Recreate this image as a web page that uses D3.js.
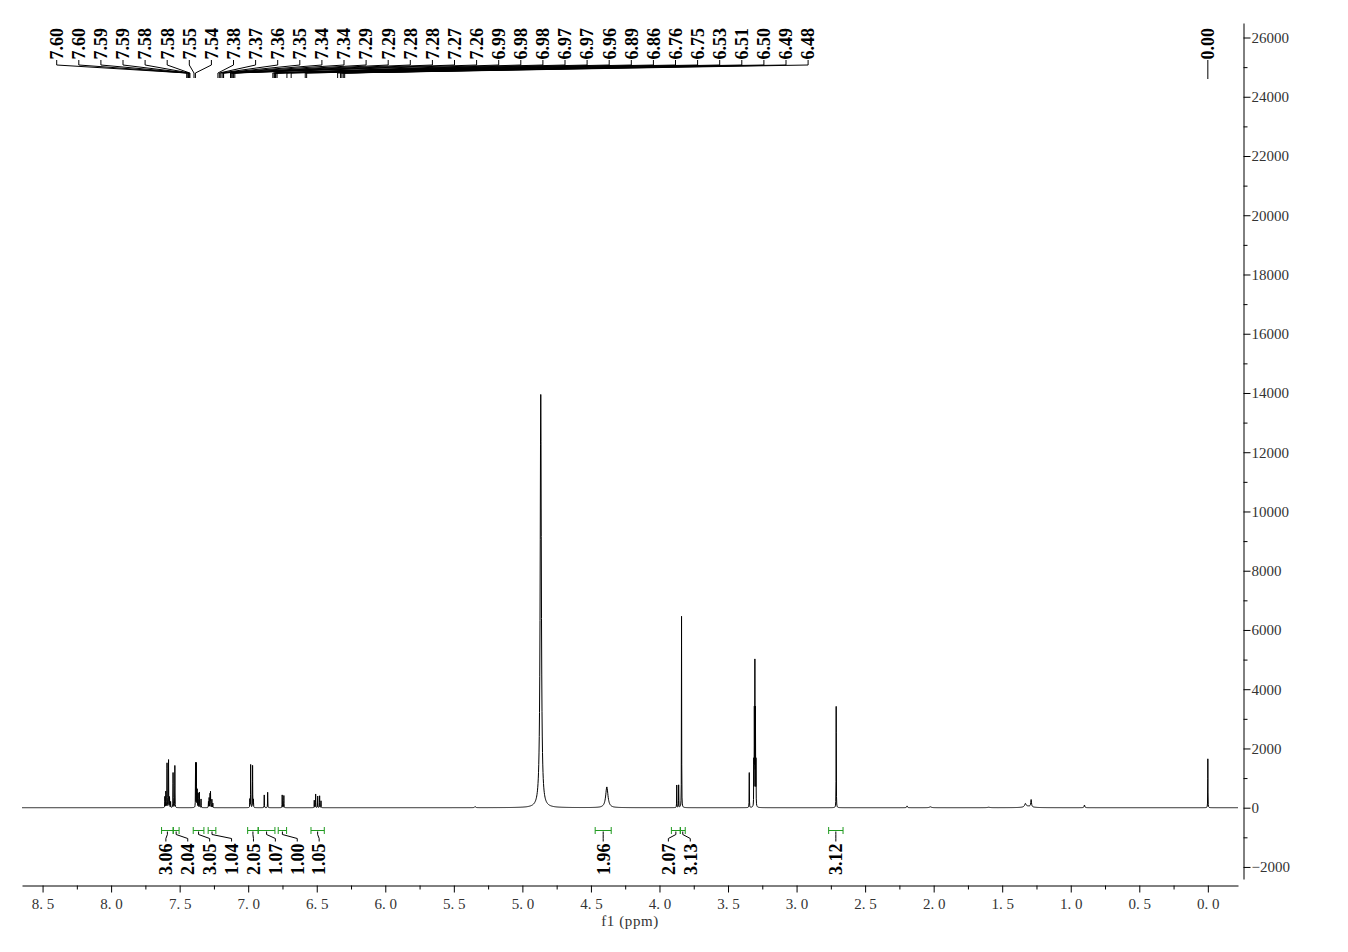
<!DOCTYPE html>
<html>
<head>
<meta charset="utf-8">
<script src="https://cdn.jsdelivr.net/npm/d3@7"></script>
<style>
  html, body { margin: 0; padding: 0; background: #fff; }
  svg { display: block; }
  .axis text { font-family: "Liberation Serif", serif; font-size: 15px; fill: #333; }
  .axis path, .axis line { stroke: #000; }
  .lbl { font-family: "Liberation Serif", serif; font-size: 18px; font-weight: bold; fill: #000; }
</style>
</head>
<body>
<svg id="chart" width="1348" height="952"></svg>
<script>
// peaks: [ppm, intensity, half width in ppm]
var aromaticPeaks = [
  [7.608, 370, 0.0008], [7.601, 540, 0.0008], [7.592, 1500, 0.0008], [7.581, 1610, 0.0008],
  [7.574, 350, 0.0008], [7.566, 200, 0.0008], [7.548, 1180, 0.0008], [7.535, 1420, 0.0008],
  [7.384, 1500, 0.0008], [7.378, 1490, 0.0008], [7.372, 600, 0.0008], [7.365, 480, 0.0008],
  [7.356, 520, 0.0008], [7.344, 290, 0.0008],
  [7.290, 200, 0.0008], [7.285, 330, 0.0008], [7.278, 450, 0.0008], [7.275, 520, 0.0008],
  [7.265, 280, 0.0008], [7.258, 150, 0.0008],
  [6.988, 280, 0.0008], [6.982, 1450, 0.0008], [6.968, 1420, 0.0008], [6.962, 270, 0.0008],
  [6.883, 430, 0.0008], [6.858, 520, 0.0008],
  [6.752, 430, 0.0008], [6.740, 410, 0.0008],
  [6.518, 250, 0.0008], [6.508, 460, 0.0008], [6.493, 390, 0.0008], [6.479, 400, 0.0008], [6.469, 230, 0.0008]
];

var aliphaticPeaks = [
  [4.384, 700, 0.010],
  [3.874, 760, 0.0008], [3.860, 760, 0.0008], [3.839, 6460, 0.0008],
  [3.345, 1180, 0.0008],
  [2.711, 3420, 0.0008],
  [2.194, 60, 0.003], [2.024, 30, 0.008], [1.599, 15, 0.010],
  [1.331, 110, 0.006], [1.289, 240, 0.003], [1.310, 50, 0.030],
  [0.900, 90, 0.003]
];

var solventPeaks = [
  [5.345, 35, 0.004],
  [4.866, 13950, 0.005],
  [3.312, 1500, 0.0008], [3.308, 3150, 0.0008], [3.304, 4750, 0.0008], [3.300, 3150, 0.0008], [3.296, 1500, 0.0008],
  [0.000, 1650, 0.0008]
];

// peak labels at the top
var peakLabels = [7.60, 7.60, 7.59, 7.59, 7.58, 7.58, 7.55, 7.54, 7.38, 7.37, 7.36, 7.35, 7.34, 7.34,
  7.29, 7.29, 7.28, 7.28, 7.27, 7.26, 6.99, 6.98, 6.98, 6.97, 6.97, 6.96, 6.89, 6.86, 6.76, 6.75,
  6.53, 6.51, 6.50, 6.49, 6.48];
var tmsLabel = 0.00;

// integrals: [from ppm, to ppm]
var integralRanges = [
  [7.632, 7.547], [7.547, 7.504], [7.401, 7.323], [7.292, 7.236],
  [7.004, 6.927], [6.927, 6.805], [6.781, 6.720], [6.542, 6.445],
  [4.469, 4.352], [3.913, 3.848], [3.848, 3.812], [2.766, 2.661]
];
var integralValues = [3.06, 2.04, 3.05, 1.04, 2.05, 1.07, 1.00, 1.05, 1.96, 2.07, 3.13, 3.12];

var xMajor = [8.5, 8.0, 7.5, 7.0, 6.5, 6.0, 5.5, 5.0, 4.5, 4.0, 3.5, 3.0, 2.5, 2.0, 1.5, 1.0, 0.5, 0.0];
var xMinor = [8.25, 7.75, 7.25, 6.75, 6.25, 5.75, 5.25, 4.75, 4.25, 3.75, 3.25, 2.75, 2.25, 1.75, 1.25, 0.75, 0.25];
var yMajor = [-2000, 0, 2000, 4000, 6000, 8000, 10000, 12000, 14000, 16000, 18000, 20000, 22000, 24000, 26000];
var yMinor = [-1000, 1000, 3000, 5000, 7000, 9000, 11000, 13000, 15000, 17000, 19000, 21000, 23000, 25000];

var svg = d3.select("#chart");

// scales
var x = d3.scaleLinear().domain([8.65, -0.22]).range([22, 1238]);
var y = d3.scaleLinear().domain([-2407, 26490]).range([879, 23]);

// spectrum: sum of the lorentzian lines
var allPeaks = aromaticPeaks.concat(aliphaticPeaks, solventPeaks);
function intensity(p) {
  var s = 0;
  allPeaks.forEach(function(pk) {
    var d = p - pk[0], w2 = pk[2] * pk[2];
    s += pk[1] * w2 / (d * d + w2);
  });
  return s;
}
var grid = [];
for (var px = x.range()[0]; px <= x.range()[1]; px += 0.25) grid.push(x.invert(px));
allPeaks.forEach(function(pk) { grid.push(pk[0]); });
grid.sort(function(a, b) { return b - a; });
var spectrum = grid.map(function(p) { return [p, intensity(p)]; });

svg.append("path")
  .datum(spectrum)
  .attr("fill", "none")
  .attr("stroke", "#000")
  .attr("stroke-width", 1)
  .attr("d", d3.line().x(function(d) { return x(d[0]); }).y(function(d) { return y(d[1]); }));

// x axis
var xAxisY = 885.5;
var gx = svg.append("g").attr("class", "axis").attr("transform", "translate(0," + xAxisY + ")")
  .call(d3.axisBottom(x).tickValues(xMajor).tickSize(7).tickSizeOuter(0)
    .tickFormat(function(d) { return d3.format(".1f")(d).replace(".", ". "); }));
gx.selectAll("text").attr("y", 23).attr("dy", 0);
svg.append("g").attr("class", "axis").attr("transform", "translate(0," + xAxisY + ")")
  .call(d3.axisBottom(x).tickValues(xMinor).tickSize(4).tickFormat(""))
  .select(".domain").remove();

svg.append("text")
  .attr("x", (x.range()[0] + x.range()[1]) / 2)
  .attr("y", 926)
  .attr("text-anchor", "middle")
  .style("font-family", "Liberation Serif, serif")
  .style("font-size", "15px")
  .style("letter-spacing", "0.6px")
  .style("fill", "#333")
  .text("f1 (ppm)");

// y axis on the right
var yAxisX = 1243.5;
svg.append("g").attr("class", "axis").attr("transform", "translate(" + yAxisX + ",0)")
  .call(d3.axisRight(y).tickValues(yMajor).tickSize(7).tickPadding(1).tickSizeOuter(0).tickFormat(d3.format("d")));
svg.append("g").attr("class", "axis").attr("transform", "translate(" + yAxisX + ",0)")
  .call(d3.axisRight(y).tickValues(yMinor).tickSize(4).tickFormat(""))
  .select(".domain").remove();

// peak labels with leader lines
var labelStart = 56.7, labelGap = 22.1;
var leadX = d3.scaleLinear().domain([7.60, 6.53]).range([x(7.60) + 21, x(6.53) + 25]);
var peakG = svg.append("g");
peakLabels.forEach(function(v, i) {
  var lx = labelStart + i * labelGap;
  peakG.append("path")
    .attr("fill", "none").attr("stroke", "#000").attr("stroke-width", 1)
    .attr("d", "M" + lx + ",60V65L" + leadX(v) + ",73V78");
  peakG.append("text")
    .attr("class", "lbl")
    .attr("transform", "translate(" + lx + ",59.5) rotate(-90)")
    .attr("dy", "0.35em")
    .text(v.toFixed(2));
});
peakG.append("path")
  .attr("fill", "none").attr("stroke", "#000").attr("stroke-width", 1)
  .attr("d", "M" + x(tmsLabel) + ",60V79");
peakG.append("text")
  .attr("class", "lbl")
  .attr("transform", "translate(" + x(tmsLabel) + ",59.5) rotate(-90)")
  .attr("dy", "0.35em")
  .text(tmsLabel.toFixed(2));

// spread crowded labels into centred clusters
function spreadLabels(desired, gap, minGap) {
  var clusters = desired.map(function(d) { return {lo: d, hi: d, n: 1}; });
  var merged = true;
  while (merged) {
    merged = false;
    for (var i = 0; i < clusters.length - 1; i++) {
      var a = clusters[i], b = clusters[i + 1];
      var aEnd = (a.lo + a.hi) / 2 + (a.n - 1) / 2 * gap;
      var bStart = (b.lo + b.hi) / 2 - (b.n - 1) / 2 * gap;
      if (bStart - aEnd < minGap) {
        clusters.splice(i, 2, {lo: a.lo, hi: b.hi, n: a.n + b.n});
        merged = true;
        break;
      }
    }
  }
  var out = [];
  clusters.forEach(function(c) {
    var c0 = (c.lo + c.hi) / 2 - (c.n - 1) / 2 * gap;
    for (var k = 0; k < c.n; k++) out.push(c0 + k * gap);
  });
  return out;
}

// integrals
var intY = 830.5;
var intG = svg.append("g");
var centres = integralRanges.map(function(r) { return x((r[0] + r[1]) / 2); });
var intLabelX = spreadLabels(centres, 21.9, 30);
integralRanges.forEach(function(r, i) {
  var x0 = x(r[0]), x1 = x(r[1]);
  intG.append("path")
    .attr("fill", "none").attr("stroke", "#1f9a1f").attr("stroke-width", 1)
    .attr("d", "M" + x0 + "," + (intY - 3.5) + "V" + (intY + 3.5) + "M" + x0 + "," + intY + "H" + x1 +
      "M" + x1 + "," + (intY - 3.5) + "V" + (intY + 3.5));
  intG.append("path")
    .attr("fill", "none").attr("stroke", "#000").attr("stroke-width", 1)
    .attr("d", "M" + centres[i] + "," + (intY + 1) + "V" + (intY + 4) + "L" + intLabelX[i] + "," + (intY + 8) + "V" + (intY + 11));
  intG.append("text")
    .attr("class", "lbl")
    .attr("transform", "translate(" + intLabelX[i] + ",875) rotate(-90)")
    .attr("dy", "0.35em")
    .text(integralValues[i].toFixed(2));
});
</script>
</body>
</html>
